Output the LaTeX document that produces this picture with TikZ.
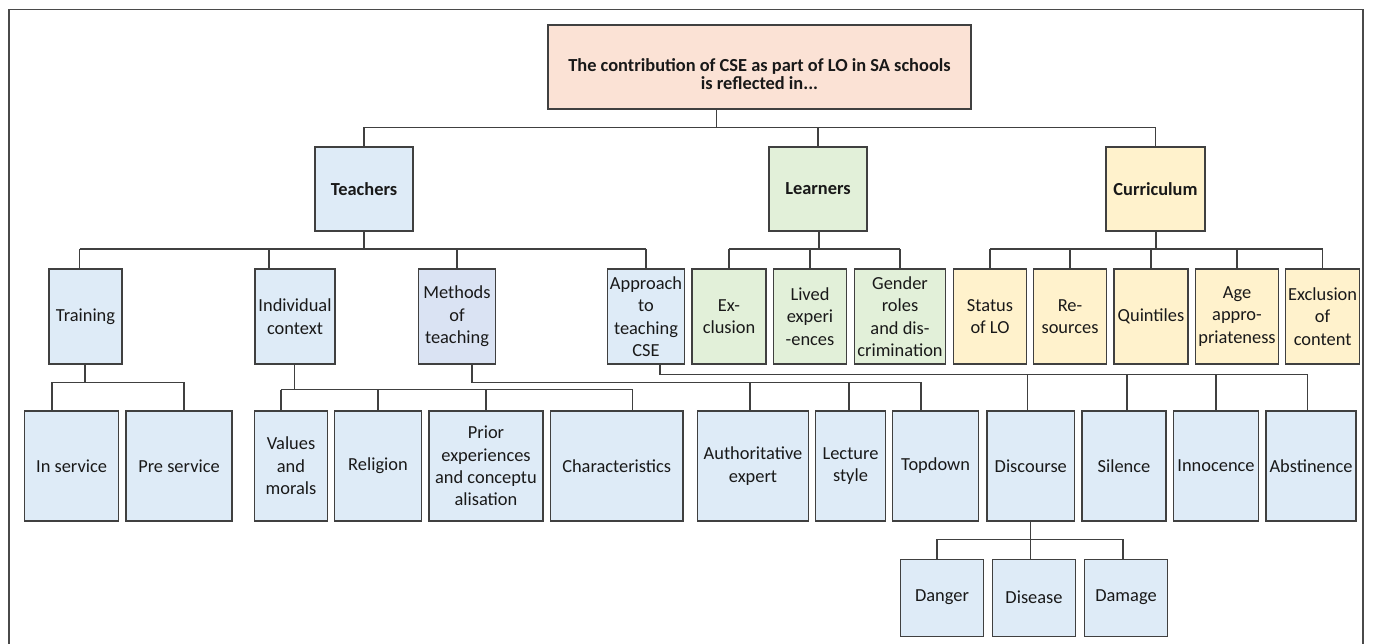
\documentclass[tikz,border=0pt]{standalone}
\usepackage{fontspec}
\setmainfont{Carlito}
\usepackage{xcolor}
\definecolor{boxline}{HTML}{404040}
\definecolor{framec}{HTML}{4A4A4A}
\definecolor{rootfill}{HTML}{FBE2D5}
\definecolor{tblue}{HTML}{DEEBF7}
\definecolor{mblue}{HTML}{DAE3F3}
\definecolor{lgreen}{HTML}{E2F0D9}
\definecolor{cyellow}{HTML}{FFF2CC}
\tikzset{
	box/.style={draw=boxline, line width=1.2pt, inner sep=1pt, align=center, text=black!90, font=\fontsize{18.4}{22.4}\selectfont},
	tbox/.style={box, fill=tblue},
	lbox/.style={box, fill=lgreen},
	cbox/.style={box, fill=cyellow},
	lvone/.style={minimum height=84pt},
	lvtwo/.style={minimum height=95pt},
	lvthree/.style={minimum height=110pt},
	lvfour/.style={minimum height=77pt},
	link/.style={draw=boxline, line width=1.2pt}
}

\begin{document}
\begin{tikzpicture}[x=1pt,y=-1pt]
		\useasboundingbox (0,0) rectangle (1376,643);
		\draw[framec, line width=1.4pt] (9,660) -- (9,9.5) -- (1363,9.5) -- (1363,660);
		
		% top
		\node[box, fill=rootfill, minimum width=423pt, minimum height=84pt, font=\fontsize{18.4}{18.4}\selectfont\bfseries] (root) at (759.5,67)
			{\rule{0pt}{27pt}The contribution of CSE as part of LO in SA schools\\is reflected in...};
		
		% first level
		\node[tbox, lvone, minimum width=98pt, font=\fontsize{18.4}{22.4}\selectfont\bfseries] (teach) at (364,189) {Teachers};
		\node[lbox, lvone, minimum width=98pt, font=\fontsize{18.4}{22.4}\selectfont\bfseries] (learn) at (818,189) {Learners};
		\node[cbox, lvone, minimum width=99pt, font=\fontsize{18.4}{22.4}\selectfont\bfseries] (curr) at (1155.5,189) {Curriculum};
		
		% second level
		\node[tbox, lvtwo, minimum width=73pt] (train) at (85.5,316.5) {Training};
		\node[tbox, lvtwo, minimum width=80pt] (indiv) at (295,316.5) {Individual\\context};
		\node[box, fill=mblue, lvtwo, minimum width=77pt] (meth) at (457,316.5) {Methods\\of\\teaching};
		\node[tbox, lvtwo, minimum width=77pt] (appr) at (646,316.5) {Approach\\to\\teaching\\CSE};
		\node[lbox, lvtwo, minimum width=74pt] (excl) at (729,316.5) {Ex-\\clusion};
		\node[lbox, lvtwo, minimum width=73.5pt] (lived) at (810,316.5) {Lived\\experi\\-ences};
		\node[lbox, lvtwo, minimum width=91.6pt] (gender) at (900,316.5) {Gender\\roles\\and dis-\\crimination};
		\node[cbox, lvtwo, minimum width=73.4pt] (status) at (990,316.5) {Status\\of LO};
		\node[cbox, lvtwo, minimum width=73pt] (resrc) at (1070,316.5) {Re-\\sources};
		\node[cbox, lvtwo, minimum width=74pt] (quint) at (1151,316.5) {Quintiles};
		\node[cbox, lvtwo, minimum width=83.4pt] (age) at (1237,316.5) {Age\\appro-\\priateness};
		\node[cbox, lvtwo, minimum width=73.7pt] (exclc) at (1322.6,316.5) {Exclusion\\of\\content};
		
		% third level
		\node[tbox, lvthree, minimum width=94pt] (insrv) at (71.6,466) {In service};
		\node[tbox, lvthree, minimum width=106pt] (presrv) at (179,466) {Pre service};
		\node[tbox, lvthree, minimum width=72.5pt] (values) at (291,466) {Values\\and\\morals};
		\node[tbox, lvthree, minimum width=87.4pt] (relig) at (378,466) {Religion};
		\node[tbox, lvthree, minimum width=114pt] (prior) at (486,466) {Prior\\experiences\\and conceptu\\alisation};
		\node[tbox, lvthree, minimum width=132.6pt] (charac) at (616.7,466) {Characteristics};
		\node[tbox, lvthree, minimum width=110.6pt] (auth) at (753,466) {Authoritative\\expert};
		\node[tbox, lvthree, minimum width=69.7pt] (lect) at (850.5,466) {Lecture\\style};
		\node[tbox, lvthree, minimum width=86pt] (topd) at (935.6,466) {Topdown};
		\node[tbox, lvthree, minimum width=87.6pt] (disc) at (1030.8,466) {Discourse};
		\node[tbox, lvthree, minimum width=84pt] (sil) at (1124,466) {Silence};
		\node[tbox, lvthree, minimum width=85.6pt] (innoc) at (1216,466) {Innocence};
		\node[tbox, lvthree, minimum width=90pt] (abst) at (1311,466) {Abstinence};
		
		% fourth level
		\node[tbox, lvfour, minimum width=82.5pt] (dang) at (942,597.6) {Danger};
		\node[tbox, lvfour, minimum width=82.5pt] (dise) at (1034,597.6) {Disease};
		\node[tbox, lvfour, minimum width=82.5pt] (dama) at (1126,597.6) {Damage};
		
		% buses
		\coordinate (rbus) at (716.6,127.7);
		\draw[link] (root.south -| rbus) -- (rbus);
		\draw[link] (teach.north) -- (teach.north |- rbus) -- (curr.north |- rbus) -- (curr.north);
		\draw[link] (learn.north) -- (learn.north |- rbus);
		
		\coordinate (tbus) at (364,249);
		\draw[link] (teach.south) -- (tbus);
		\draw[link] ([xshift=-6pt]train.north |- tbus) -- (appr.north |- tbus);
		\foreach \n/\dx in {train/-6,indiv/-26,meth/0,appr/0}
		{\draw[link] ([xshift=\dx pt]\n.north) -- ([xshift=\dx pt]\n.north |- tbus);}
		
		\coordinate (lbus) at (819,249);
		\draw[link] (learn.south -| lbus) -- (lbus);
		\draw[link] (excl.north |- lbus) -- (gender.north |- lbus);
		\foreach \n in {excl,lived,gender}
		{\draw[link] (\n.north) -- (\n.north |- lbus);}
		
		\coordinate (cbus) at (1156,249);
		\draw[link] (curr.south -| cbus) -- (cbus);
		\draw[link] (status.north |- cbus) -- (exclc.north |- cbus);
		\foreach \n in {status,resrc,quint,age,exclc}
		{\draw[link] (\n.north) -- (\n.north |- cbus);}
		
		\coordinate (trbus) at (85,382.3);
		\draw[link] (train.south -| trbus) -- (trbus);
		\draw[link] ([xshift=-19.6pt]insrv.north |- trbus) -- ([xshift=5pt]presrv.north |- trbus);
		\foreach \n/\dx in {insrv/-19.6,presrv/5}
		{\draw[link] ([xshift=\dx pt]\n.north) -- ([xshift=\dx pt]\n.north |- trbus);}
		
		\coordinate (ibus) at (294.6,389.7);
		\draw[link] (indiv.south -| ibus) -- (ibus);
		\draw[link] ([xshift=-10pt]values.north |- ibus) -- ([xshift=16pt]charac.north |- ibus);
		\foreach \n/\dx in {values/-10,relig/0,prior/0,charac/16}
		{\draw[link] ([xshift=\dx pt]\n.north) -- ([xshift=\dx pt]\n.north |- ibus);}
		
		\coordinate (mbus) at (472,382.3);
		\draw[link] (meth.south -| mbus) -- (mbus) -- ([xshift=-14.6pt]topd.north |- mbus);
		\foreach \n/\dx in {auth/-3,lect/-1.5,topd/-14.6}
		{\draw[link] ([xshift=\dx pt]\n.north) -- ([xshift=\dx pt]\n.north |- mbus);}
		
		\coordinate (abus) at (660,374.3);
		\draw[link] (appr.south -| abus) -- (abus) -- ([xshift=-3.3pt]abst.north |- abus);
		\foreach \n/\dx in {disc/-3,sil/3,innoc/0,abst/-3.3}
		{\draw[link] ([xshift=\dx pt]\n.north) -- ([xshift=\dx pt]\n.north |- abus);}
		
		\coordinate (dbus) at (1030.4,539.3);
		\draw[link] (disc.south -| dbus) -- (dbus |- dise.north);
		\draw[link] ([xshift=-5pt]dang.north |- dbus) -- ([xshift=-3pt]dama.north |- dbus);
		\foreach \n/\dx in {dang/-5,dama/-3}
		{\draw[link] ([xshift=\dx pt]\n.north) -- ([xshift=\dx pt]\n.north |- dbus);}
\end{tikzpicture}
\end{document}
